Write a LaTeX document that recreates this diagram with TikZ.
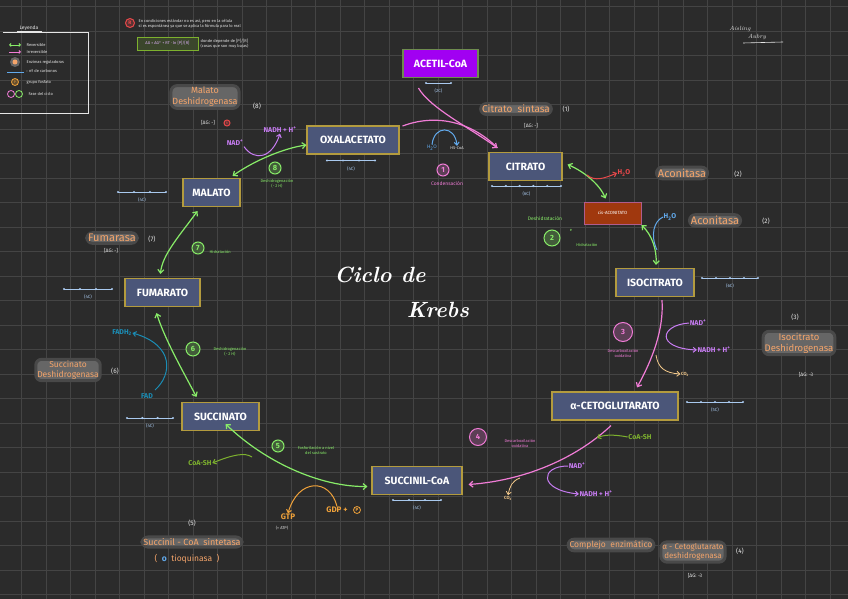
\documentclass[tikz,border=0pt]{standalone}
\usepackage{fontspec}
\setsansfont{Fira Sans}
\usetikzlibrary{arrows.meta,calc}
\definecolor{bg}{HTML}{2B2B2B}
\definecolor{gridc}{HTML}{444444}
\definecolor{boxfill}{HTML}{4B5679}
\definecolor{boxedge}{HTML}{B39B3E}
\definecolor{grn}{HTML}{88EC68}
\definecolor{pnk}{HTML}{F07CD6}
\definecolor{purp}{HTML}{C77CF2}
\definecolor{orng}{HTML}{F4A46A}
\definecolor{glow}{HTML}{666666}
\definecolor{chain}{HTML}{A9C9EE}
\definecolor{olive}{HTML}{7DB12E}
\definecolor{redc}{HTML}{E8484A}
\definecolor{bluec}{HTML}{62AAEC}
\definecolor{tealc}{HTML}{1B8DB5}
\definecolor{gold}{HTML}{F0A23A}
\definecolor{beige}{HTML}{F2C88A}
\definecolor{acet}{HTML}{A100F2}
\definecolor{acetedge}{HTML}{6E8B4F}
\definecolor{cisfill}{HTML}{A0380E}
\definecolor{cisedge}{HTML}{B05C8C}
\definecolor{wtxt}{HTML}{E6E6E6}
\newcommand\cchain[6]{%
  \draw[chain, line width=0.7pt] (#2,#4) -- (#3,#4);
  \foreach \k in {1,...,#5}{\fill[chain] ({#2+(\k-1)*(#3-#2)/(#5-1)},#4) circle (1.2pt);}
  \node[ctext] (#1) at ({(#2+#3)/2},#4+8) {#6};}
\begin{document}
\begin{tikzpicture}[x=1pt,y=-1pt,
  every node/.style={font=\sffamily},
  met/.style={draw=boxedge, line width=1.1pt, fill=boxfill, text=white, font=\sffamily\bfseries\fontsize{10.5}{12}\selectfont, minimum height=28pt, inner sep=0pt},
  enz/.style={fill=glow, draw=glow!50!bg, line width=3pt, rounded corners=6pt, text=orng, font=\sffamily\fontsize{8.5}{10}\selectfont, inner sep=1.5pt, align=center},
  wlab/.style={text=wtxt, font=\sffamily\fontsize{6.5}{7}\selectfont, inner sep=0.5pt},
  tinyw/.style={text=wtxt, font=\sffamily\fontsize{4}{5}\selectfont, inner sep=0.5pt, align=center},
  tinyc/.style={font=\sffamily\fontsize{4}{5}\selectfont, inner sep=0.5pt, align=center},
  ctext/.style={text=chain, font=\sffamily\fontsize{4.5}{5}\selectfont, inner sep=0.5pt},
  mol/.style={font=\sffamily\bfseries\fontsize{7}{8}\selectfont, inner sep=0.5pt},
  ar/.style={line width=1.2pt, -{Straight Barb[length=3.5pt,width=6pt]}},
  dar/.style={line width=1.2pt, {Straight Barb[length=3.5pt,width=6pt]}-{Straight Barb[length=3.5pt,width=6pt]}},
  thin ar/.style={line width=1pt, -{Straight Barb[length=3pt,width=5pt]}},
  phase/.style={circle, draw=#1, line width=1pt, text=#1, fill=#1!25!bg, inner sep=0.5pt, minimum size=12pt, font=\sffamily\bfseries\fontsize{7.5}{8}\selectfont}
]
% background and grid
\fill[bg] (0,0) rectangle (848,599);
\useasboundingbox (0,0) rectangle (848,599);
\foreach \gx in {-3,21.5,...,850} \draw[gridc, line width=0.6pt] (\gx,0) -- (\gx,599);
\foreach \gy in {6.5,31,...,600} \draw[gridc, line width=0.6pt] (0,\gy) -- (848,\gy);

% ---------------- metabolites
\node[met, fill=acet, draw=acetedge, minimum width=75pt] (acetil) at (440.5,63.5) {ACETIL-CoA};
\node[met, minimum width=73pt] (cit) at (525.5,166.5) {CITRATO};
\node[met, minimum width=92pt] (oxal) at (353,140) {OXALACETATO};
\node[met, minimum width=57pt] (mal) at (211.5,192.5) {MALATO};
\node[met, fill=cisfill, draw=cisedge, line width=0.8pt, minimum width=57pt, minimum height=22pt, font=\sffamily\fontsize{4.5}{5}\selectfont] (cis) at (612.5,213) {cis-ACONITATO};
\node[met, minimum width=78pt] (iso) at (655,282.5) {ISOCITRATO};
\node[met, minimum width=126pt] (ceto) at (615,406) {α-CETOGLUTARATO};
\node[met, minimum width=90pt] (succoa) at (417,480.5) {SUCCINIL-CoA};
\node[met, minimum width=77pt] (succ) at (220.5,416.5) {SUCCINATO};
\node[met, minimum width=75pt] (fum) at (162.5,292.5) {FUMARATO};

% ---------------- carbon chains
\cchain{cA}{426}{451}{83}{2}{(2C)}
\cchain{cB}{492}{561}{186}{6}{(6C)}
\cchain{cC}{327}{375}{160.5}{4}{(4C)}
\cchain{cD}{118}{166}{192}{4}{(4C)}
\cchain{cE}{702}{758}{278}{5}{(6C)}
\cchain{cF}{687}{743}{402}{5}{(5C)}
\cchain{cG}{393}{441}{500}{4}{(4C)}
\cchain{cH}{127}{173}{418}{4}{(4C)}
\cchain{cI}{64}{112}{289}{4}{(4C)}

% ---------------- title
\node[text=white, font=\rmfamily\bfseries\itshape\fontsize{22}{24}\selectfont] (t1) at (380,275) {Ciclo de};
\node[text=white, font=\rmfamily\bfseries\itshape\fontsize{22}{24}\selectfont] (t2) at (438,310) {Krebs};

% ---------------- step 1
\draw[ar, pnk] ($(acetil.south west)+(16,10)$) .. controls (430,108) and (470,128) .. ($(cit.north west)+(9,-4)$);
\draw[line width=1.2pt, pnk] ($(oxal.east)+(3,-14)$) .. controls (440,112) and (475,125) .. ($(cit.north west)+(9,-4)$);
\node[mol, text=bluec, font=\sffamily\fontsize{5}{6}\selectfont] (h2o1) at (432,148) {H\textsubscript{2}O};
\node[tinyc, text=wtxt] (hscoa) at (457,148) {HS-CoA};
\draw[thin ar, bluec] (h2o1.north) .. controls (434,125) and (455,125) .. (hscoa.north);
\node[phase=pnk] (p1) at (443,170) {1};
\node[tinyc, text=pnk, font=\sffamily\fontsize{5}{6}\selectfont] (p1l) at (447,184) {Condensación};
\node[enz, font=\sffamily\fontsize{10}{11}\selectfont] (e1) at (516,109) {Citrato\ \ sintasa};
\node[wlab] (e1n) at (566,109) {(1)};
\node[tinyw, font=\sffamily\fontsize{5}{6}\selectfont] (e1g) at (531,126) {[ΔG: -]};

% ---------------- step 2
\draw[dar, grn] ($(cit.east)+(5,-2)$) .. controls (585,172) and (600,185) .. ($(cis.north)+(-7,-3)$);
\coordinate (h2oA) at (587,175);
\node[mol, text=redc] (h2o2) at (624,173) {H\textsubscript{2}O};
\draw[thin ar, redc] (h2oA) .. controls (595,182) and (605,178) .. (h2o2.west);
\draw[dar, grn] ($(cis.east)+(0,12)$) .. controls (652,235) and (657,250) .. ($(iso.north)+(1,-3)$);
\coordinate (h2oB) at (657,250);
\node[mol, text=bluec] (h2o3) at (670,217) {H\textsubscript{2}O};
\draw[line width=1pt, bluec] (h2oB) .. controls (650,235) and (654,221) .. (h2o3.west);
\node[enz, font=\sffamily\fontsize{11}{12}\selectfont] (e2a) at (682,173) {Aconitasa};
\node[wlab] (e2an) at (738,174) {(2)};
\node[enz, font=\sffamily\fontsize{11}{12}\selectfont] (e2b) at (715,220.5) {Aconitasa};
\node[wlab] (e2bn) at (766,221) {(2)};
\node[phase=grn, minimum size=16pt] (p2) at (552,238) {2};
\node[tinyc, text=grn, font=\sffamily\fontsize{5}{6}\selectfont] (p2l) at (545,219) {Deshidratación};
\node[tinyc, text=grn] (p2e) at (571,230) {e};
\node[tinyc, text=grn] (p2m) at (587,245) {Hidratación};

% ---------------- step 3
\draw[ar, pnk] ($(iso.south)+(7,3)$) .. controls (664,330) and (652,360) .. ($(ceto.north)+(22,-4)$);
\node[mol, text=purp] (nad3) at (698,323) {NAD\textsuperscript{+}};
\node[mol, text=purp] (nadh3) at (714,350) {NADH + H\textsuperscript{+}};
\draw[thin ar, purp] (nad3.west) .. controls (660,325) and (655,348) .. (nadh3.west);
\coordinate (co2a) at (656,355);
\node[tinyc, text=beige, font=\sffamily\bfseries\fontsize{4.5}{5}\selectfont] (co23) at (685,374) {CO\textsubscript{2}};
\draw[thin ar, beige, line width=0.8pt] (co2a) .. controls (658,368) and (665,373) .. (co23.west);
\node[phase=pnk, minimum size=19pt] (p3) at (623,332) {3};
\node[tinyc, text=pnk] (p3l) at (623,353) {Descarboxilación\\oxidativa};
\node[wlab] (e3n) at (795,317) {(3)};
\node[enz, font=\sffamily\fontsize{9.5}{11}\selectfont] (e3) at (799,343) {Isocitrato\\Deshidrogenasa};
\node[tinyw, font=\sffamily\fontsize{5}{6}\selectfont] (e3g) at (806,375) {[ΔG: -3};

% ---------------- step 4
\draw[ar, pnk] ($(ceto.south)+(-4,5)$) .. controls (580,455) and (530,480) .. ($(succoa.east)+(6,4)$);
\node[mol, text=olive] (coa4) at (640,437) {CoA-SH};
\draw[thin ar, olive] (coa4.west) .. controls (612,434) and (603,435) .. (597,438) coordinate (coa4e);
\node[mol, text=purp] (nad4) at (577,466) {NAD\textsuperscript{+}};
\node[mol, text=purp] (nadh4) at (596,494) {NADH + H\textsuperscript{+}};
\draw[thin ar, purp] (nad4.west) .. controls (540,466) and (538,490) .. (nadh4.west);
\coordinate (co2b) at (520,478);
\node[tinyc, text=beige, font=\sffamily\bfseries\fontsize{4.5}{5}\selectfont] (co24) at (508,498) {CO\textsubscript{2}};
\draw[thin ar, beige, line width=0.8pt] (co2b) .. controls (512,481) and (510,486) .. (co24.north);
\node[phase=pnk, minimum size=17pt] (p4) at (478,437) {4};
\node[tinyc, text=pnk] (p4l) at (520,443) {Descarboxilación\\oxidativa};
\node[enz] (e4a) at (611,545) {Complejo\ \ enzimático};
\node[enz, font=\sffamily\fontsize{8}{9.5}\selectfont] (e4b) at (693,552) {α - Cetoglutarato\\deshidrogenasa};
\node[wlab] (e4n) at (740,551) {(4)};
\node[tinyw, font=\sffamily\fontsize{5}{6}\selectfont] (e4g) at (695,576) {[ΔG: -3};

% ---------------- step 5
\draw[dar, grn] ($(succoa.west)+(-4,6)$) .. controls (320,487) and (265,462) .. ($(succ.north east)+(-34,22)$);
\coordinate (coa5s) at (252,457);
\node[mol, text=olive] (coa5) at (200,463) {CoA-SH};
\draw[thin ar, olive] (coa5s) .. controls (245,452) and (232,455) .. (coa5.east);
\node[mol, text=gold, font=\sffamily\bfseries\fontsize{8}{9}\selectfont] (gdp) at (337,510) {GDP +};
\node[circle, draw=gold, line width=0.8pt, text=gold, inner sep=0.3pt, minimum size=7pt, font=\sffamily\bfseries\fontsize{4.5}{5}\selectfont] (pp) at (357,510) {P};
\node[mol, text=gold, font=\sffamily\bfseries\fontsize{8}{9}\selectfont] (gtp) at (288,517) {GTP};
\node[tinyw] (atp) at (282,528) {(= ATP)};
\draw[thin ar, gold] (gdp.north) .. controls (330,478) and (298,478) .. (gtp.north);
\node[phase=grn] (p5) at (278,446) {5};
\node[tinyc, text=grn] (p5l) at (316,450) {Fosforilación a nivel\\del sustrato};
\node[wlab] (e5n) at (192,523) {(5)};
\node[enz, font=\sffamily\fontsize{9}{10}\selectfont] (e5) at (192,542) {Succinil - CoA\ \ sintetasa};
\node[text=orng, font=\sffamily\fontsize{8.5}{10}\selectfont, inner sep=1pt] (e5b) at (187,559) {(\ \ \textcolor{bluec}{\textbf{o}}\ \ tioquinasa\ \ )};

% ---------------- step 6
\draw[dar, grn] ($(succ.north)+(-24,-5)$) .. controls (185,375) and (165,340) .. ($(fum.south)+(-6,6)$);
\node[mol, text=tealc] (fadh) at (122,333) {FADH\textsubscript{2}};
\node[mol, text=tealc] (fad) at (147,396) {FAD};
\draw[thin ar, tealc] (155,390) .. controls (172,375) and (175,345) .. (fadh.east);
\node[phase=grn, minimum size=14pt] (p6) at (193,349) {6};
\node[tinyc, text=grn] (p6l) at (230,352) {Deshidrogenación\\(- 2 H)};
\node[enz, font=\sffamily\fontsize{8.5}{10}\selectfont] (e6) at (68,370) {Succinato\\Deshidrogenasa};
\node[wlab] (e6n) at (115,371) {(6)};

% ---------------- step 7
\draw[dar, grn] ($(mal.south)+(-14,4)$) .. controls (180,235) and (162,255) .. ($(fum.north)+(-2,-4)$);
\node[phase=grn] (p7) at (198,248) {7};
\node[tinyc, text=grn, anchor=west] (p7l) at (209,252) {Hidratación};
\node[enz, font=\sffamily\fontsize{11}{12}\selectfont] (e7) at (112,238) {Fumarasa};
\node[wlab] (e7n) at (152,239) {(7)};
\node[tinyw, font=\sffamily\fontsize{5}{6}\selectfont] (e7g) at (111,251) {[ΔG: -]};

% ---------------- step 8
\draw[dar, grn] ($(mal.north east)+(-8,-2)$) .. controls (255,160) and (285,148) .. ($(oxal.west)+(0,5)$);
\node[mol, text=purp] (nad8) at (235,143) {NAD\textsuperscript{+}};
\node[mol, text=purp] (nadh8) at (280,130) {NADH + H\textsuperscript{+}};
\draw[thin ar, purp] (nad8.south east) .. controls (255,162) and (272,158) .. (nadh8.south);
\node[phase=grn] (p8) at (275,168) {8};
\node[tinyc, text=grn] (p8l) at (277,184) {Deshidrogenación\\(- 2 H)};
\node[enz, font=\sffamily\fontsize{9}{11}\selectfont] (e8) at (205,97) {Malato\\Deshidrogenasa};
\node[wlab] (e8n) at (257,106) {(8)};
\node[tinyw, font=\sffamily\fontsize{5}{6}\selectfont] (e8g) at (208,123) {[ΔG: -]};
\node[phase=redc, minimum size=6pt, font=\sffamily\fontsize{3.5}{4}\selectfont] (e8r) at (227,123) {R};

% ---------------- legend
\draw[wtxt, line width=0.6pt] (3,32) -- (88,32) -- (88,113) -- (0,113);
\node[tinyw, font=\sffamily\fontsize{5}{6}\selectfont] (leg) at (29,28) {Leyenda};
\draw[wtxt, line width=0.5pt] (17,31) -- (42,31);
\draw[grn, line width=0.9pt, {Straight Barb[length=1.5pt,width=3pt]}-{Straight Barb[length=1.5pt,width=3pt]}] (9,45) -- (21,45);
\node[tinyw, anchor=west] (l1) at (26,45) {Reversible};
\draw[pnk, line width=0.9pt, -{Straight Barb[length=1.5pt,width=3pt]}] (9,52) -- (21,52);
\node[tinyw, anchor=west] (l2) at (26,52) {Irreversible};
\node[circle, fill=glow, minimum size=10pt, inner sep=0pt] (l3c) at (15,62) {};
\fill[orng] (l3c) circle (2.5pt);
\node[tinyw, anchor=west] (l3) at (26,62) {Enzimas reguladoras};
\draw[bluec, line width=0.9pt] (7,72) -- (24,72);
\node[tinyw, anchor=west] (l4) at (26,71) {: nº de carbonos};
\node[circle, draw=gold, fill=gold!30!bg, line width=0.8pt, text=gold, inner sep=0pt, minimum size=7pt, font=\sffamily\fontsize{3.5}{4}\selectfont] (l5c) at (15,82) {P};
\node[tinyw, anchor=west] (l5) at (26,82) {grupo fosfato};
\node[circle, draw=pnk, line width=0.8pt, inner sep=0pt, minimum size=7pt] (l6a) at (11,94) {};
\node[circle, draw=grn, line width=0.8pt, inner sep=0pt, minimum size=7pt] (l6b) at (19,94) {};
\node[tinyw, anchor=west] (l6) at (28,94) {Fase del ciclo};

% ---------------- top note
\node[phase=redc, minimum size=9pt, font=\sffamily\bfseries\fontsize{5}{5}\selectfont] (rn) at (130,23) {R};
\node[tinyw, anchor=west, align=left] (note1) at (138,24) {En condiciones estándar no es así, pero en la célula\\sí es espontánea ya que se aplica la fórmula para lo real};
\node[draw=olive, fill=olive!20!bg, line width=0.8pt, minimum width=61pt, minimum height=13pt, inner sep=0.5pt, text=purp!60!white, font=\sffamily\fontsize{4}{5}\selectfont] (eqn) at (167.5,43.5) {ΔG = ΔG° + RT · ln [P]/[R]};
\node[tinyw, anchor=west, align=left] (note2) at (200,44) {donde depende de [P]/[R]\\(cosas que son muy bajas)};

% ---------------- signature
\node[text=wtxt, font=\rmfamily\itshape\fontsize{6}{6}\selectfont, inner sep=0pt] (sig1) at (740,29) {Aisling};
\node[text=wtxt, font=\rmfamily\itshape\fontsize{6}{6}\selectfont, inner sep=0pt] (sig2) at (757,37) {Aubry};
\draw[wtxt, line width=0.6pt] (743,43) -- (783,42);
\end{tikzpicture}
\end{document}
